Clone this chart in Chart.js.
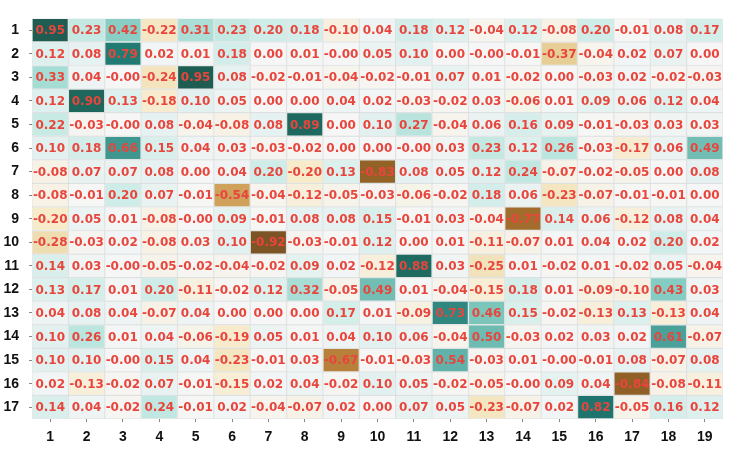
<!DOCTYPE html>
<html>
<head>
<meta charset="utf-8">
<script src="https://cdn.jsdelivr.net/npm/chart.js@4/dist/chart.umd.min.js"></script>
<style>
    body { margin: 0; background: #fff; }
    #wrap { width: 733px; height: 471px; }
</style>
</head>
<body>
<div id="wrap"><canvas id="heat" width="733" height="471"></canvas></div>
<script>
// column / row labels
const colLabels = ["1","2","3","4","5","6","7","8","9","10","11","12","13","14","15","16","17","18","19"];
const rowLabels = [1,2,3,4,5,6,7,8,9,10,11,12,13,14,15,16,17];

// cell values, one array per row (-0.00 kept as negative zero)
const row01 = [0.95, 0.23, 0.42, -0.22, 0.31, 0.23, 0.20, 0.18, -0.10, 0.04, 0.18, 0.12, -0.04, 0.12, -0.08, 0.20, -0.01, 0.08, 0.17];
const row02 = [0.12, 0.08, 0.79, 0.02, 0.01, 0.18, 0.00, 0.01, -0.00, 0.05, 0.10, 0.00, -0.00, -0.01, -0.37, -0.04, 0.02, 0.07, 0.00];
const row03 = [0.33, 0.04, -0.00, -0.24, 0.95, 0.08, -0.02, -0.01, -0.04, -0.02, -0.01, 0.07, 0.01, -0.02, 0.00, -0.03, 0.02, -0.02, -0.03];
const row04 = [0.12, 0.90, 0.13, -0.18, 0.10, 0.05, 0.00, 0.00, 0.04, 0.02, -0.03, -0.02, 0.03, -0.06, 0.01, 0.09, 0.06, 0.12, 0.04];
const row05 = [0.22, -0.03, -0.00, 0.08, -0.04, -0.08, 0.08, 0.89, 0.00, 0.10, 0.27, -0.04, 0.06, 0.16, 0.09, -0.01, -0.03, 0.03, 0.03];
const row06 = [0.10, 0.18, 0.66, 0.15, 0.04, 0.03, -0.03, -0.02, 0.00, 0.00, -0.00, 0.03, 0.23, 0.12, 0.26, -0.03, -0.17, 0.06, 0.49];
const row07 = [-0.08, 0.07, 0.07, 0.08, 0.00, 0.04, 0.20, -0.20, 0.13, -0.83, 0.08, 0.05, 0.12, 0.24, -0.07, -0.02, -0.05, 0.00, 0.08];
const row08 = [-0.08, -0.01, 0.20, 0.07, -0.01, -0.54, -0.04, -0.12, -0.05, -0.03, -0.06, -0.02, 0.18, 0.06, -0.23, -0.07, -0.01, -0.01, 0.00];
const row09 = [-0.20, 0.05, 0.01, -0.08, -0.00, 0.09, -0.01, 0.08, 0.08, 0.15, -0.01, 0.03, -0.04, -0.77, 0.14, 0.06, -0.12, 0.08, 0.04];
const row10 = [-0.28, -0.03, 0.02, -0.08, 0.03, 0.10, -0.92, -0.03, -0.01, 0.12, 0.00, 0.01, -0.11, -0.07, 0.01, 0.04, 0.02, 0.20, 0.02];
const row11 = [0.14, 0.03, -0.00, -0.05, -0.02, -0.04, -0.02, 0.09, 0.02, -0.12, 0.88, 0.03, -0.25, 0.01, -0.02, 0.01, -0.02, 0.05, -0.04];
const row12 = [0.13, 0.17, 0.01, 0.20, -0.11, -0.02, 0.12, 0.32, -0.05, 0.49, 0.01, -0.04, -0.15, 0.18, 0.01, -0.09, -0.10, 0.43, 0.03];
const row13 = [0.04, 0.08, 0.04, -0.07, 0.04, 0.00, 0.00, 0.00, 0.17, 0.01, -0.09, 0.73, 0.46, 0.15, -0.02, -0.13, 0.13, -0.13, 0.04];
const row14 = [0.10, 0.26, 0.01, 0.04, -0.06, -0.19, 0.05, 0.01, 0.04, 0.10, 0.06, -0.04, 0.50, -0.03, 0.02, 0.03, 0.02, 0.61, -0.07];
const row15 = [0.10, 0.10, -0.00, 0.15, 0.04, -0.23, -0.01, 0.03, -0.67, -0.01, -0.03, 0.54, -0.03, 0.01, -0.00, -0.01, 0.08, -0.07, 0.08];
const row16 = [0.02, -0.13, -0.02, 0.07, -0.01, -0.15, 0.02, 0.04, -0.02, 0.10, 0.05, -0.02, -0.05, -0.00, 0.09, 0.04, -0.84, -0.08, -0.11];
const row17 = [0.14, 0.04, -0.02, 0.24, -0.01, 0.02, -0.04, -0.07, 0.02, 0.00, 0.07, 0.05, -0.23, -0.07, 0.02, 0.82, -0.05, 0.16, 0.12];
const rows = [row01, row02, row03, row04, row05, row06, row07, row08, row09, row10, row11, row12, row13, row14, row15, row16, row17];

// BrBG diverging map, -1 .. 1
const brbg = ["#543005","#8c510a","#bf812d","#dfc27d","#f6e8c3","#f5f5f5","#c7eae5","#80cdc1","#35978f","#01665e","#003c30"];

function hexRgb(h) {
    return [parseInt(h.slice(1,3),16), parseInt(h.slice(3,5),16), parseInt(h.slice(5,7),16)];
}
function cellColor(v) {
    let t = (Math.max(-1, Math.min(1, v)) + 1) / 2 * (brbg.length - 1);
    let i = Math.min(Math.floor(t), brbg.length - 2);
    let f = t - i;
    const a = hexRgb(brbg[i]), b = hexRgb(brbg[i + 1]);
    const fade = 0.88;
    const c = a.map((x, k) => Math.round((x + (b[k] - x) * f) * fade + 255 * (1 - fade)));
    return "rgb(" + c.join(",") + ")";
}
function fmt(v) {
    return (Object.is(v, -0) ? "-" : "") + v.toFixed(2);
}

const datasets = rows.map((vals, r) => ({
    label: "row " + rowLabels[r],
    data: vals.map(() => [rowLabels[r] - 0.5, rowLabels[r] + 0.5]),
    values: vals,
    backgroundColor: vals.map(cellColor),
    borderColor: "rgba(200,205,205,0.45)",
    borderWidth: 1,
    borderSkipped: false,
    barPercentage: 1,
    categoryPercentage: 1
}));

const cellText = {
    id: "cellText",
    afterDatasetsDraw(chart) {
        const ctx = chart.ctx;
        ctx.save();
        ctx.font = "bold 12px 'DejaVu Sans'";
        ctx.fillStyle = "#e8453c";
        ctx.textAlign = "center";
        ctx.textBaseline = "middle";
        chart.data.datasets.forEach((ds, di) => {
            chart.getDatasetMeta(di).data.forEach((bar, j) => {
                ctx.fillText(fmt(ds.values[j]), bar.x, (bar.y + bar.base) / 2 + 1);
            });
        });
        ctx.restore();
    }
};

new Chart(document.getElementById("heat"), {
    type: "bar",
    data: { labels: colLabels, datasets: datasets },
    plugins: [cellText],
    options: {
        responsive: false,
        animation: false,
        layout: { padding: { top: 7, right: 10, left: 0, bottom: 0 } },
        plugins: { legend: { display: false }, tooltip: { enabled: false } },
        datasets: { bar: { grouped: false } },
        scales: {
            x: {
                grid: { offset: false, drawOnChartArea: false, tickLength: 3, color: "#888", tickWidth: 1 },
                border: { display: false },
                ticks: { color: "#111", padding: 7, font: { family: "'Liberation Sans'", weight: "bold", size: 14 } },
                afterFit(axis) { axis.height = 52; }
            },
            y: {
                type: "linear",
                min: 0.5,
                max: 17.5,
                reverse: true,
                afterBuildTicks(axis) { axis.ticks = rowLabels.map(v => ({ value: v })); },
                grid: { drawOnChartArea: false, tickLength: 3, color: "#888" },
                border: { display: false },
                ticks: { color: "#111", padding: 10, font: { family: "'Liberation Sans'", weight: "bold", size: 14 },
                         callback: v => String(v) },
                afterFit(axis) { axis.width = 32; }
            }
        }
    }
});
</script>
</body>
</html>
